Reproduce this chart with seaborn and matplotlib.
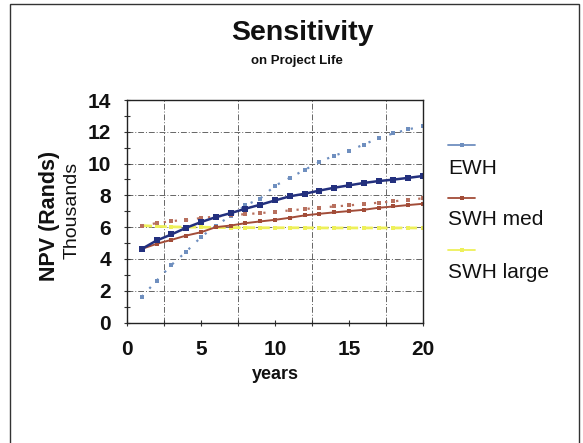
import matplotlib
matplotlib.use("Agg")
import matplotlib.pyplot as plt
from matplotlib.lines import Line2D
from matplotlib.patches import Rectangle
import seaborn as sns

sns.set_style("white")
plt.rcParams['font.family'] = ['Liberation Sans', 'DejaVu Sans']

years = list(range(1, 21))
ewh_dotted = [1.62, 2.63, 3.62, 4.46, 5.37, 6.1, 6.7, 7.37, 7.8, 8.6,
              9.1, 9.6, 10.1, 10.5, 10.8, 11.2, 11.6, 11.9, 12.15, 12.36]
ewh_solid = [4.63, 5.16, 5.54, 5.96, 6.32, 6.63, 6.88, 7.16, 7.41, 7.68,
             7.94, 8.1, 8.3, 8.48, 8.63, 8.78, 8.9, 8.99, 9.1, 9.22]
swh_med_dotted = [6.1, 6.25, 6.38, 6.46, 6.57, 6.67, 6.74, 6.82, 6.88, 6.97,
                  7.05, 7.14, 7.22, 7.3, 7.37, 7.45, 7.54, 7.62, 7.73, 7.81]
swh_med_solid = [4.63, 4.95, 5.2, 5.47, 5.68, 6.0, 6.1, 6.25, 6.36, 6.46,
                 6.59, 6.74, 6.84, 6.93, 7.01, 7.09, 7.22, 7.3, 7.39, 7.47]
swh_large = [6.1, 6.05, 6.02, 6.0, 6.0, 5.98, 5.97, 5.97, 5.96, 5.96,
             5.96, 5.96, 5.95, 5.95, 5.95, 5.95, 5.95, 5.95, 5.95, 5.95]

legend_labels = ["EWH", "SWH med", "SWH large"]
x_ticks = [0, 5, 10, 15, 20]
y_ticks = [0, 2, 4, 6, 8, 10, 12, 14]

c_ewh_light = "#6f8fbf"
c_ewh = "#23307e"
c_med_light = "#b8705e"
c_med = "#a24c38"
c_large = "#eef05a"

fig = plt.figure(figsize=(5.83, 4.43), dpi=100)
ax = fig.add_axes([127/583, 1-322.5/443, (423-127)/583, (322.5-100)/443])

sns.lineplot(x=years, y=swh_large, ax=ax, color=c_large, linewidth=2.0,
             linestyle="--", marker="s", markersize=3.5, markeredgewidth=0)
sns.lineplot(x=years, y=ewh_dotted, ax=ax, color=c_ewh_light, linewidth=1.6,
             linestyle=(0, (1, 4)), marker="s", markersize=3.5, markeredgewidth=0)
sns.lineplot(x=years, y=swh_med_dotted, ax=ax, color=c_med_light, linewidth=1.6,
             linestyle=(0, (1, 4)), marker="s", markersize=3.5, markeredgewidth=0)
sns.lineplot(x=years, y=swh_med_solid, ax=ax, color=c_med, linewidth=1.4,
             marker="s", markersize=3.5, markeredgewidth=0)
sns.lineplot(x=years, y=ewh_solid, ax=ax, color=c_ewh, linewidth=1.8,
             marker="s", markersize=4, markeredgewidth=0)

ax.set_xlim(0, 20)
ax.set_ylim(0, 14)
ax.set_xticks(x_ticks)
ax.set_xticks([2.5, 7.5, 12.5, 17.5], minor=True)
ax.set_yticks(y_ticks)
ax.set_yticks([1, 3, 5, 7, 9, 11, 13], minor=True)
ax.set_xticklabels([str(v) for v in x_ticks], fontsize=15, fontweight='bold', color="#111111")
ax.set_yticklabels([str(v) for v in y_ticks], fontsize=15, fontweight='bold', color="#111111")
ax.tick_params(axis='both', which='both', direction='inout', length=5, width=0.8,
               color="#333333", bottom=True, left=True)
ax.tick_params(axis='x', which='major', pad=10)
ax.tick_params(axis='y', which='major', pad=9)

ax.grid(False)
ax.xaxis.grid(True, which='minor', color="#666666", linestyle=(0, (6, 2, 1, 2)), linewidth=0.7)
ax.yaxis.grid(True, which='major', color="#666666", linestyle=(0, (6, 2, 1, 2)), linewidth=0.7)
for s in ax.spines.values():
    s.set_visible(True)
    s.set_color("#222222")
    s.set_linewidth(1.0)

ax.set_xlabel("years", fontsize=13, fontweight='bold', labelpad=5, color="#111111")
ax.set_ylabel("")
fig.text(50/583, 1-216/443, "NPV (Rands)", rotation=90, ha='center', va='center',
         fontsize=15.5, fontweight='bold', color="#111111")
fig.text(72/583, 1-210/443, "Thousands", rotation=90, ha='center', va='center',
         fontsize=14, color="#111111")

fig.text(302/583, 1-33/443, "Sensitivity", ha='center', va='center', fontsize=20.5,
         fontweight='bold', color="#111111")
fig.text(297/583, 1-61/443, "on Project Life", ha='center', va='center', fontsize=9.5,
         fontweight='bold', color="#111111")

# Legend (Excel style: marker line above label)
leg_colors = [c_ewh_light, c_med, c_large]
line_y = [145, 198, 250]
text_y = [168, 220, 272]
for lab, col, ly, ty in zip(legend_labels, leg_colors, line_y, text_y):
    fig.add_artist(Line2D([448/583, 475/583], [1-ly/443, 1-ly/443], color=col,
                          linewidth=1.3))
    fig.add_artist(Line2D([462/583], [1-ly/443], color=col, marker='s',
                          markersize=3.5, markeredgewidth=0))
    fig.text(448/583, 1-ty/443, lab, ha='left', va='center', fontsize=15, color="#111111")

fig.add_artist(Rectangle((10/583, -0.01), (579-10)/583, 1-4/443 + 0.01,
                         transform=fig.transFigure, fill=False,
                         edgecolor="#333333", linewidth=1.0))

fig.savefig("out.png", dpi=100)
